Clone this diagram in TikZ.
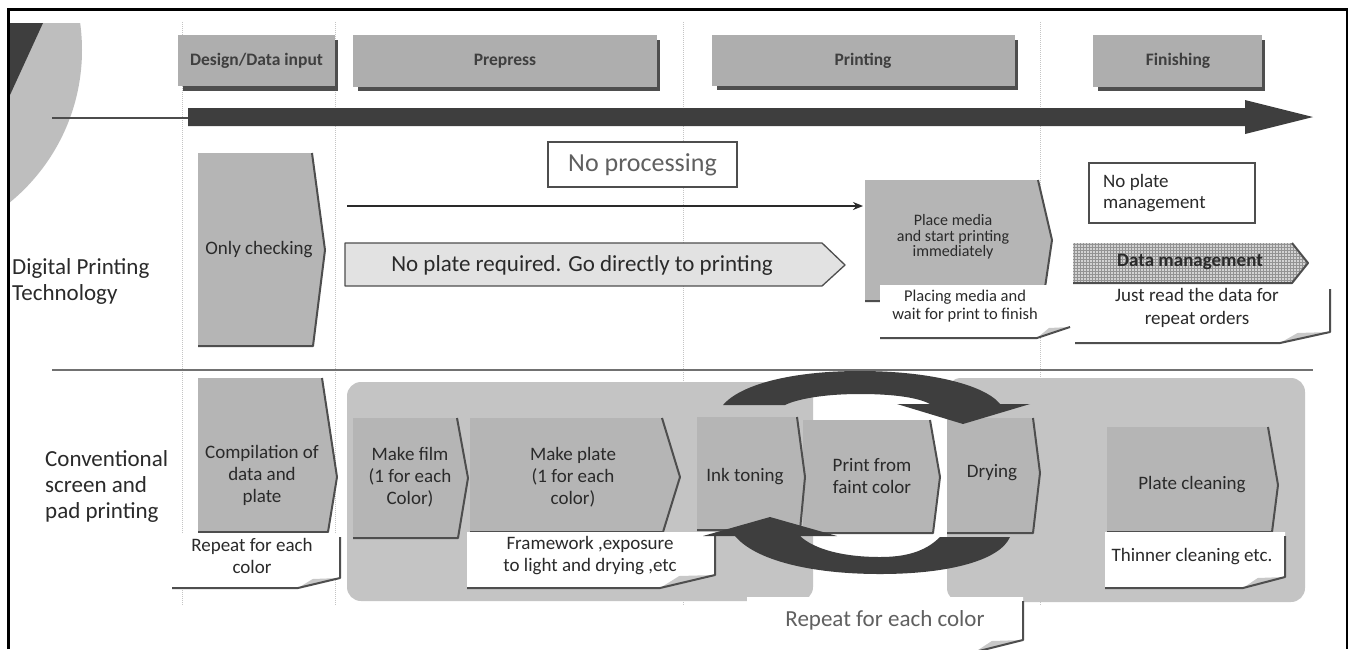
\documentclass[tikz,border=0pt]{standalone}
\usepackage{fontspec}
\setmainfont{Carlito}
\usetikzlibrary{patterns,arrows.meta}
\definecolor{boxg}{HTML}{B5B5B5}
\definecolor{regg}{HTML}{C4C4C4}
\definecolor{hdrg}{HTML}{AEAEAE}
\definecolor{shad}{HTML}{4E4E4E}
\definecolor{txt}{HTML}{2A2A2A}
\definecolor{darkarr}{HTML}{3E3E3E}
\definecolor{circg}{HTML}{BEBEBE}
\definecolor{foldg}{HTML}{C8C8C8}
\definecolor{plateg}{HTML}{E2E2E2}
\definecolor{vline}{HTML}{C4C4C4}
\newcommand\chevbox[7]{%
  \fill[boxg] (#1,#2) -- (#3,#2) -- (#5,#6) -- (#7,#4) -- (#1,#4) -- cycle;
  \draw[shadline] (#3,#2) -- (#5,#6) -- (#7,#4) -- (#1,#4);}
\newcommand\noteshape[6]{%
  \fill[white] (#1,#2) -- (#3,#2) -- (#3,#4) -- (#5,#6) -- (#1,#6) -- cycle;
  \fill[foldg] (#5,#6) -- (#3,#4) -- ({#5+0.35*(#3-#5)},{#4+1}) -- cycle;
  \draw[shadline] (#3,{#2+4}) -- (#3,#4) -- (#5,#6) -- (#1,#6);}
\begin{document}
\begin{tikzpicture}[x=1pt,y=-1pt,
  shadline/.style={draw=shad,line width=2pt,line join=round},
  lbl/.style={font=\fontsize{19}{22}\selectfont,text=txt,align=center,inner sep=0pt},
  hdr/.style={font=\bfseries\fontsize{17.5}{21}\selectfont,text=txt!90,inner sep=0pt},
  side/.style={font=\fontsize{23}{26}\selectfont,text=txt,align=left,inner sep=0pt,anchor=west},
  sml/.style={font=\fontsize{16.5}{18}\selectfont,text=txt,align=center,inner sep=0pt},
  hdrbox/.style={fill=hdrg},
  hdrshadow/.style={fill=shad},
]
\useasboundingbox (0,0) rectangle (1351,649);
\fill[white] (0,0) rectangle (1351,649);
% decorative circle
\begin{scope}
  \clip (10,23) rectangle (1345,649);
  \fill[circg] (-115,50) circle[radius=197pt];
  \fill[darkarr] (10,23) -- (43,23) -- (10,95) -- cycle;
\end{scope}
% dotted column lines
\foreach \xx in {182,335,683,1040}
  \draw[vline,line width=1pt,densely dotted] (\xx,22) -- (\xx,605);
% header boxes
\fill[hdrshadow] (183,40) rectangle (338,91);
\fill[hdrbox] (178,35) rectangle (335,86);
\node[hdr] (h1) at (256.5,61) {Design/Data input};
\fill[hdrshadow] (358,40) rectangle (660,91);
\fill[hdrbox] (353,35) rectangle (657,87);
\node[hdr] (h2) at (505,61) {Prepress};
\fill[hdrshadow] (717,40) rectangle (1018,90);
\fill[hdrbox] (712,35) rectangle (1015,86);
\node[hdr] (h3) at (863,61) {Printing};
\fill[hdrshadow] (1098,40) rectangle (1265,91);
\fill[hdrbox] (1093,35) rectangle (1262,87);
\node[hdr] (h4) at (1178,61) {Finishing};
% main time arrow
\coordinate (ms) at (52,118);
\coordinate (mb) at (188,118);
\draw[gray!60!black,line width=2pt] (ms) -- (mb);
\fill[darkarr] (188,108) -- (1245,108) -- (1245,100) -- (1313,117) -- (1245,134) -- (1245,126) -- (188,126) -- cycle;
% digital row
\node[side] (dig) at (12,281) {Digital Printing\\Technology};
\chevbox{198}{153}{312}{346}{325}{250}{313}
\node[lbl] (oc) at (259,250) {Only checking};
\node[draw=shad,line width=1.5pt,fill=white,minimum width=189pt,minimum height=45pt,
  font=\fontsize{26}{30}\selectfont,text=shad!90] (np) at (642.5,164.5) {No processing};
\fill[plateg] (345,243) -- (822,243) -- (845,265) -- (822,286) -- (345,286) -- cycle;
\draw[shad,line width=1.3pt,line join=round] (345,243) -- (822,243) -- (845,265) -- (822,286) -- (345,286) -- cycle;
\node[font=\fontsize{23}{26}\selectfont,text=txt,inner sep=0pt] (npr) at (582,265) {No plate required. Go directly to printing};
\chevbox{865}{180}{1038}{301}{1052}{240}{1043}
\node[font=\fontsize{16}{15.5}\selectfont,text=txt,align=center,inner sep=0pt] (pm) at (953,237) {Place media\\and start printing\\immediately};
\coordinate (ta) at (347,206);
\coordinate (tb) at (863,206);
\draw[line width=2pt,txt,-{Stealth[length=10pt,width=8pt]}] (ta) -- (tb);
% placing media callout (no right edge)
\fill[white] (880,285) -- (1070,285) -- (1070,327) -- (1037,338) -- (880,338) -- cycle;
\fill[foldg] (1037,338) -- (1070,327) -- (1049,328) -- cycle;
\draw[shadline] (1070,327) -- (1037,338) -- (880,338);
\node[sml] (pl) at (965,306) {Placing media and\\wait for print to finish};
% finishing column
\draw[shad,line width=1.5pt,fill=white] (1089,163) rectangle (1255,223);
\node[font=\fontsize{19}{21}\selectfont,text=txt,align=left,inner sep=0pt,anchor=west] (npm) at (1103,193) {No plate\\management};
\fill[plateg!85!gray] (1073,243) -- (1292,243) -- (1308,263) -- (1292,283) -- (1073,283) -- cycle;
\fill[pattern=grid,pattern color=gray!85] (1073,243) -- (1292,243) -- (1308,263) -- (1292,283) -- (1073,283) -- cycle;
\draw[shadline] (1292,243) -- (1308,263) -- (1292,283) -- (1073,283);
\node[font=\bfseries\fontsize{19}{22}\selectfont,text=txt,inner sep=0pt] (dm) at (1190,262) {Data management};
\noteshape{1075}{285}{1330}{332}{1280}{343}
\node[lbl,font=\fontsize{19}{23}\selectfont] (jr) at (1197,308) {Just read the data for\\repeat orders};
% separator
\draw[shad!80,line width=1.5pt] (52,370) -- (1313,370);
% conventional row
\node[side] (conv) at (45,486) {Conventional\\screen and\\pad printing};
\fill[regg,rounded corners=14pt] (347,382) rectangle (813,601);
\fill[regg,rounded corners=14pt] (947,378) rectangle (1305,602);
\chevbox{198}{378}{322}{532}{337}{477}{328}
\node[lbl] (cmp) at (262,475) {Compilation of\\data and\\plate};
\chevbox{353}{418}{457}{538}{468}{478}{458}
\node[lbl] (mf) at (410,477) {Make film\\(1 for each\\Color)};
\chevbox{470}{418}{662}{532}{680}{477}{663}
\node[lbl] (mp) at (573,477) {Make plate\\(1 for each\\color)};
\chevbox{803}{420}{930}{533}{940}{477}{933}
\node[lbl] (pf) at (872,476) {Print from\\faint color};
\chevbox{697}{417}{797}{530}{805}{477}{800}
\node[lbl] (it) at (745,477) {Ink toning};
\chevbox{947}{418}{1033}{533}{1040}{473}{1033}
\node[lbl] (dr) at (992,473) {Drying};
\chevbox{1107}{427}{1268}{532}{1278}{485}{1272}
\node[lbl] (pc) at (1192,485) {Plate cleaning};
% callouts
\noteshape{172}{533}{340}{578}{298}{588}
\node[lbl] (rl) at (252,556) {Repeat for each\\color};
\noteshape{467}{532}{715}{575}{660}{588}
\node[lbl] (fw) at (590,556) {Framework ,exposure\\to light and drying ,etc};
\noteshape{1105}{532}{1285}{577}{1243}{588}
\node[lbl] (tc) at (1192,557) {Thinner cleaning etc.};
\noteshape{747}{597}{1023}{640}{975}{652}
\node[font=\fontsize{23}{26}\selectfont,text=shad!90,inner sep=0pt] (rb) at (885,620) {Repeat for each color};
% circular arrows
\fill[darkarr] (723,405) .. controls (740,385) and (790,371) .. (860,371)
  .. controls (930,371) and (985,385) .. (1000,404) -- (1030,404) -- (963,424) -- (897,404) -- (930,404)
  .. controls (915,396) and (885,394) .. (860,394) .. controls (820,394) and (795,400) .. (785,405) -- cycle;
\fill[darkarr] (1010,537) -- (940,537) .. controls (925,552) and (905,557) .. (880,557)
  .. controls (845,557) and (815,550) .. (800,536) -- (837,536) -- (770,517) -- (703,536) -- (735,536)
  .. controls (755,560) and (810,574) .. (880,574) .. controls (950,574) and (1000,560) .. (1010,537) -- cycle;
% frame
\draw[black,line width=2.5pt] (8.5,649) -- (8.5,9.5) -- (1347,9.5) -- (1347,649);
\end{tikzpicture}
\end{document}
